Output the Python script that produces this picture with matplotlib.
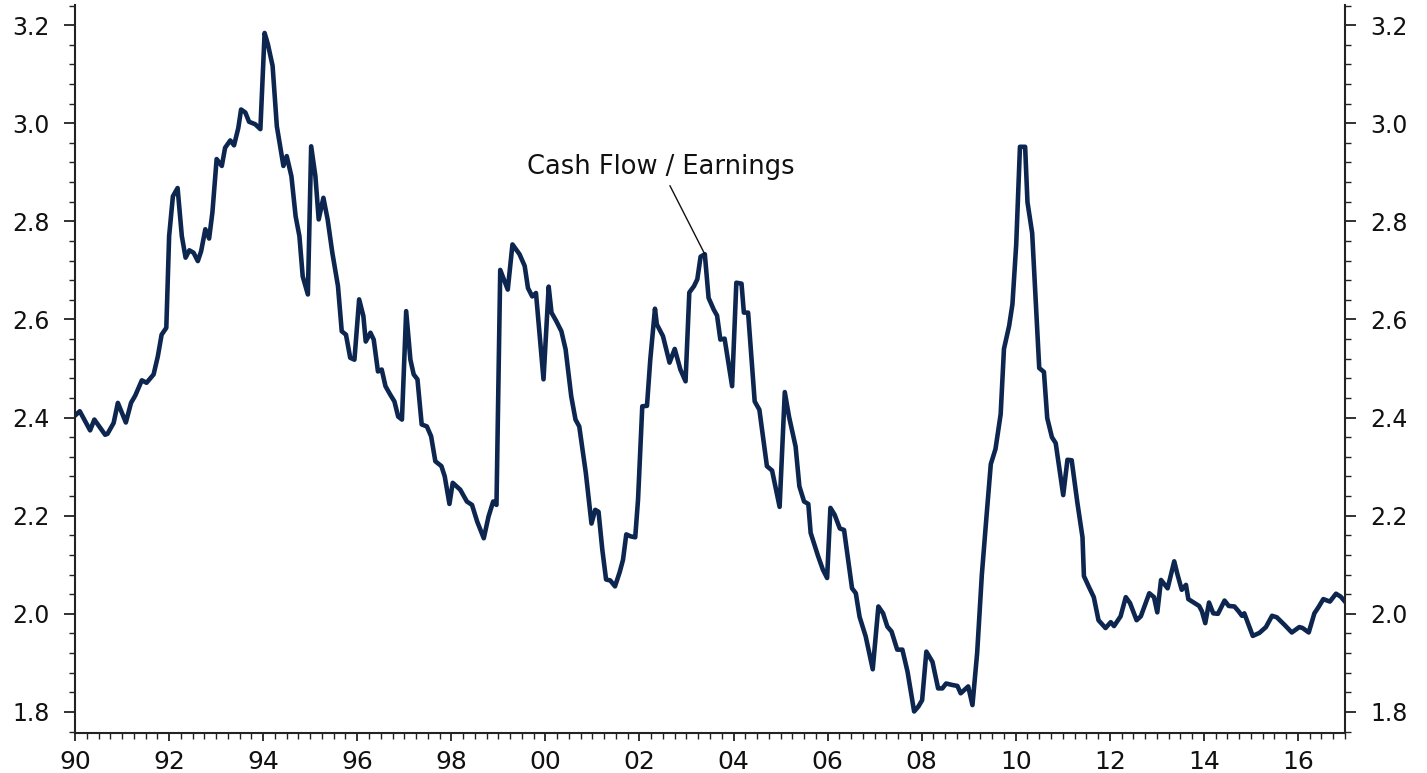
import matplotlib.pyplot as plt
from matplotlib.ticker import MultipleLocator, FuncFormatter

# Cash flow / earnings ratio (decimal years)
years = [
	1990.02, 1990.10, 1990.32, 1990.41, 1990.64, 1990.69, 1990.82, 1990.91, 1991.08, 1991.19,
	1991.28, 1991.42, 1991.52, 1991.67, 1991.76, 1991.84, 1991.94, 1992.00, 1992.08, 1992.18,
	1992.27, 1992.35, 1992.43, 1992.52, 1992.61, 1992.68, 1992.77, 1992.85, 1992.92, 1993.01,
	1993.12, 1993.19, 1993.30, 1993.38, 1993.47, 1993.53, 1993.62, 1993.70, 1993.83, 1993.94,
	1994.03, 1994.10, 1994.20, 1994.29, 1994.43, 1994.50, 1994.60, 1994.69, 1994.77, 1994.84,
	1994.95, 1995.02, 1995.11, 1995.18, 1995.28, 1995.37, 1995.47, 1995.59, 1995.67, 1995.76,
	1995.85, 1995.94, 1996.04, 1996.13, 1996.18, 1996.28, 1996.35, 1996.44, 1996.52, 1996.60,
	1996.70, 1996.79, 1996.87, 1996.95, 1997.04, 1997.13, 1997.20, 1997.28, 1997.37, 1997.48,
	1997.57, 1997.66, 1997.79, 1997.86, 1997.96, 1998.03, 1998.19, 1998.33, 1998.44, 1998.55,
	1998.69, 1998.79, 1998.89, 1998.96, 1999.04, 1999.20, 1999.30, 1999.45, 1999.56, 1999.63,
	1999.72, 1999.80, 1999.96, 2000.07, 2000.13, 2000.23, 2000.34, 2000.43, 2000.55, 2000.64,
	2000.72, 2000.86, 2000.98, 2001.06, 2001.13, 2001.21, 2001.29, 2001.38, 2001.48, 2001.58,
	2001.65, 2001.72, 2001.81, 2001.91, 2001.97, 2002.06, 2002.16, 2002.23, 2002.33, 2002.37,
	2002.50, 2002.64, 2002.75, 2002.87, 2002.98, 2003.06, 2003.16, 2003.23, 2003.30, 2003.39,
	2003.47, 2003.58, 2003.65, 2003.72, 2003.81, 2003.97, 2004.06, 2004.17, 2004.22, 2004.31,
	2004.45, 2004.55, 2004.71, 2004.82, 2004.98, 2005.09, 2005.18, 2005.32, 2005.40, 2005.50,
	2005.59, 2005.64, 2005.80, 2005.90, 2005.99, 2006.06, 2006.15, 2006.26, 2006.35, 2006.52,
	2006.60, 2006.68, 2006.81, 2006.96, 2007.08, 2007.18, 2007.27, 2007.36, 2007.48, 2007.59,
	2007.70, 2007.84, 2007.93, 2008.01, 2008.10, 2008.23, 2008.35, 2008.44, 2008.52, 2008.65,
	2008.76, 2008.83, 2008.99, 2009.08, 2009.18, 2009.28, 2009.38, 2009.47, 2009.57, 2009.68,
	2009.75, 2009.86, 2009.93, 2010.01, 2010.09, 2010.20, 2010.25, 2010.35, 2010.50, 2010.60,
	2010.67, 2010.77, 2010.85, 2011.01, 2011.10, 2011.19, 2011.31, 2011.42, 2011.45, 2011.56,
	2011.66, 2011.76, 2011.91, 2012.02, 2012.09, 2012.23, 2012.34, 2012.43, 2012.57, 2012.66,
	2012.84, 2012.94, 2013.01, 2013.09, 2013.23, 2013.37, 2013.44, 2013.53, 2013.62, 2013.67,
	2013.90, 2013.96, 2014.03, 2014.11, 2014.20, 2014.30, 2014.44, 2014.53, 2014.65, 2014.74,
	2014.81, 2014.86, 2015.04, 2015.18, 2015.32, 2015.45, 2015.55, 2015.71, 2015.87, 2016.03,
	2016.10, 2016.23, 2016.35, 2016.44, 2016.54, 2016.68, 2016.81, 2016.91, 2017.00,
]
ratio = [
	2.406, 2.413, 2.374, 2.396, 2.365, 2.367, 2.389, 2.430, 2.390, 2.430,
	2.445, 2.476, 2.471, 2.488, 2.525, 2.569, 2.583, 2.770, 2.851, 2.868,
	2.770, 2.726, 2.741, 2.736, 2.719, 2.739, 2.784, 2.765, 2.818, 2.927,
	2.913, 2.950, 2.965, 2.955, 2.990, 3.028, 3.022, 3.003, 2.998, 2.988,
	3.184, 3.161, 3.117, 2.994, 2.913, 2.933, 2.892, 2.810, 2.770, 2.688,
	2.651, 2.953, 2.892, 2.804, 2.848, 2.804, 2.736, 2.668, 2.576, 2.569,
	2.522, 2.518, 2.641, 2.607, 2.555, 2.573, 2.559, 2.494, 2.498, 2.464,
	2.447, 2.433, 2.402, 2.396, 2.617, 2.518, 2.488, 2.478, 2.386, 2.382,
	2.362, 2.311, 2.301, 2.280, 2.224, 2.267, 2.253, 2.229, 2.222, 2.188,
	2.154, 2.198, 2.229, 2.222, 2.701, 2.661, 2.753, 2.733, 2.709, 2.664,
	2.647, 2.654, 2.478, 2.667, 2.614, 2.597, 2.576, 2.539, 2.443, 2.396,
	2.382, 2.287, 2.184, 2.212, 2.208, 2.131, 2.070, 2.068, 2.056, 2.085,
	2.110, 2.162, 2.158, 2.156, 2.233, 2.423, 2.424, 2.518, 2.622, 2.590,
	2.566, 2.512, 2.540, 2.498, 2.474, 2.655, 2.668, 2.682, 2.728, 2.733,
	2.644, 2.620, 2.608, 2.559, 2.561, 2.464, 2.675, 2.673, 2.614, 2.614,
	2.433, 2.416, 2.301, 2.292, 2.218, 2.452, 2.402, 2.341, 2.260, 2.229,
	2.224, 2.165, 2.117, 2.090, 2.073, 2.216, 2.202, 2.174, 2.171, 2.052,
	2.042, 1.994, 1.954, 1.887, 2.015, 2.001, 1.974, 1.964, 1.927, 1.927,
	1.882, 1.801, 1.811, 1.824, 1.923, 1.902, 1.848, 1.848, 1.858, 1.855,
	1.853, 1.838, 1.852, 1.814, 1.920, 2.080, 2.200, 2.305, 2.336, 2.407,
	2.540, 2.587, 2.631, 2.752, 2.952, 2.952, 2.839, 2.776, 2.501, 2.493,
	2.399, 2.360, 2.348, 2.242, 2.314, 2.313, 2.227, 2.156, 2.077, 2.054,
	2.034, 1.987, 1.971, 1.983, 1.975, 1.995, 2.034, 2.022, 1.987, 1.995,
	2.042, 2.034, 2.003, 2.069, 2.052, 2.107, 2.080, 2.049, 2.059, 2.030,
	2.016, 2.005, 1.981, 2.023, 2.001, 2.000, 2.027, 2.016, 2.015, 2.005,
	1.996, 2.001, 1.955, 1.961, 1.973, 1.996, 1.993, 1.978, 1.962, 1.973,
	1.971, 1.962, 2.001, 2.014, 2.030, 2.025, 2.041, 2.035, 2.025,
]

label_text = "Cash Flow / Earnings"
label_point = (2003.39, 2.733)
label_pos = (2002.45, 2.91)

line_color = "#0d2650"
axis_color = "#222222"

##########
# Figure #
##########
fig = plt.figure(figsize=(14.27, 7.73), dpi=100)
ax = fig.add_axes([0.0526, 0.0517, 0.8899, 0.9418])
ax.plot(years, ratio, color=line_color, lw=3.3, solid_joinstyle="round")

ax.set_xlim(1990, 2017)
ax.set_ylim(1.757, 3.241)

# x axis: two-digit years every 2 years, quarterly minor ticks
ax.xaxis.set_major_locator(MultipleLocator(2))
ax.xaxis.set_minor_locator(MultipleLocator(0.25))
ax.xaxis.set_major_formatter(FuncFormatter(lambda v, p: "%02d" % (int(round(v)) % 100)))

# y axis on both sides
ax.yaxis.set_major_locator(MultipleLocator(0.2))
ax.yaxis.set_minor_locator(MultipleLocator(0.04))
ax.yaxis.set_major_formatter(FuncFormatter(lambda v, p: "%.1f" % v))

ax.tick_params(axis="both", which="major", direction="out", length=8, width=1.3,
			   color=axis_color, labelcolor="#111111")
ax.tick_params(axis="both", which="minor", direction="out", length=4, width=1.0, color=axis_color)
ax.tick_params(axis="x", which="major", length=6, pad=6, labelsize=18)
ax.tick_params(axis="y", which="both", left=True, right=True, labelleft=True, labelright=True)
ax.tick_params(axis="y", which="major", labelsize=17, pad=10)

ax.spines["top"].set_visible(False)
for side in ["left", "right", "bottom"]:
	ax.spines[side].set_color(axis_color)
	ax.spines[side].set_linewidth(1.5)

ax.annotate(label_text, xy=label_point, xytext=label_pos,
			ha="center", va="center", fontsize=18.5, color="#111111",
			arrowprops=dict(arrowstyle="-", color="#111111", lw=1.0, shrinkA=2, shrinkB=0))

plt.savefig("out.png", dpi=100)
